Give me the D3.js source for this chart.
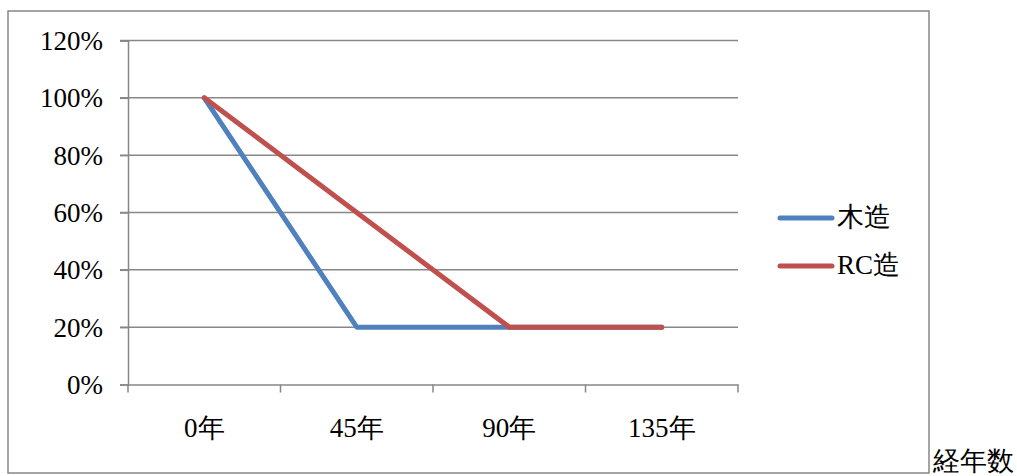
<!DOCTYPE html>
<html><head><meta charset="utf-8">
<script src="https://cdn.jsdelivr.net/npm/d3@7"></script>
<style>body{margin:0;background:#fff}svg{display:block}</style>
</head><body>
<svg id="c" width="1017" height="476" font-family="Liberation Serif, Times New Roman, serif"></svg>
<script>
const categories = ["0年", "45年", "90年", "135年"];
const woodValues = [1.0, 0.2, 0.2, 0.2];
const rcValues = [1.0, 0.6, 0.2, 0.2];
const seriesNames = ["木造", "RC造"];
const yTicks = [0, 0.2, 0.4, 0.6, 0.8, 1.0, 1.2];
const xAxisTitle = "経年数";

const colors = ["#4F81BD", "#C0504D"];
const svg = d3.select("#c");
function styleText(sel, size) {
  sel.attr("font-family", null).style("font-family", "Liberation Serif, Times New Roman, serif")
    .style("font-size", size + "px").style("fill", "#000");
}

svg.append("rect").attr("x", 8).attr("y", 11).attr("width", 921).attr("height", 462)
  .attr("fill", "none").attr("stroke", "#878787").attr("stroke-width", 1.5);

const x = d3.scaleBand().domain(categories).range([128, 738]);
const y = d3.scaleLinear().domain([0, 1.2]).range([384.5, 40.5]);

svg.append("g").selectAll("line").data(yTicks.filter(d => d > 0)).join("line")
  .attr("x1", 120).attr("x2", 738).attr("y1", d => y(d)).attr("y2", d => y(d))
  .attr("stroke", "#878787").attr("stroke-width", 1.5);

const yAxis = svg.append("g").attr("transform", "translate(128,0)")
  .call(d3.axisLeft(y).tickValues(yTicks).tickFormat(d3.format(".0%")).tickSize(8).tickPadding(17));
yAxis.attr("font-family", null);
yAxis.select(".domain").attr("stroke", "#878787").attr("stroke-width", 1.5);
yAxis.selectAll(".tick line").attr("stroke", "#878787").attr("stroke-width", 1.5);
yAxis.selectAll("text").call(styleText, 27).attr("dy", "0.33em");

const xAxis = svg.append("g").attr("transform", "translate(0,384.5)")
  .call(d3.axisBottom(x).tickSize(0));
xAxis.attr("font-family", null);
xAxis.select(".domain").attr("stroke", "#878787").attr("stroke-width", 1.5);
xAxis.selectAll("text").call(styleText, 27).attr("y", 52).attr("dy", 0);
const bounds = categories.map(c => x(c)).concat([x.range()[1]]);
xAxis.selectAll("line.bt").data(bounds).join("line").attr("class", "bt")
  .attr("x1", d => d).attr("x2", d => d).attr("y1", 0).attr("y2", 8)
  .attr("stroke", "#878787").attr("stroke-width", 1.5);

const line = d3.line().x((d, i) => x(categories[i]) + x.bandwidth() / 2).y(d => y(d));
[woodValues, rcValues].forEach((vals, i) => {
  svg.append("path").datum(vals).attr("d", line).attr("fill", "none")
    .attr("stroke", colors[i]).attr("stroke-width", 5)
    .attr("stroke-linecap", "round").attr("stroke-linejoin", "round");
});

const leg = svg.append("g");
seriesNames.forEach((n, i) => {
  const ly = 218 + i * 48;
  leg.append("line").attr("x1", 780).attr("x2", 832).attr("y1", ly).attr("y2", ly)
    .attr("stroke", colors[i]).attr("stroke-width", 5).attr("stroke-linecap", "round");
  leg.append("text").attr("x", 837).attr("y", ly + 8).text(n).call(styleText, 27);
});

svg.append("text").attr("x", 933).attr("y", 470).text(xAxisTitle).call(styleText, 27);
</script>
</body></html>
